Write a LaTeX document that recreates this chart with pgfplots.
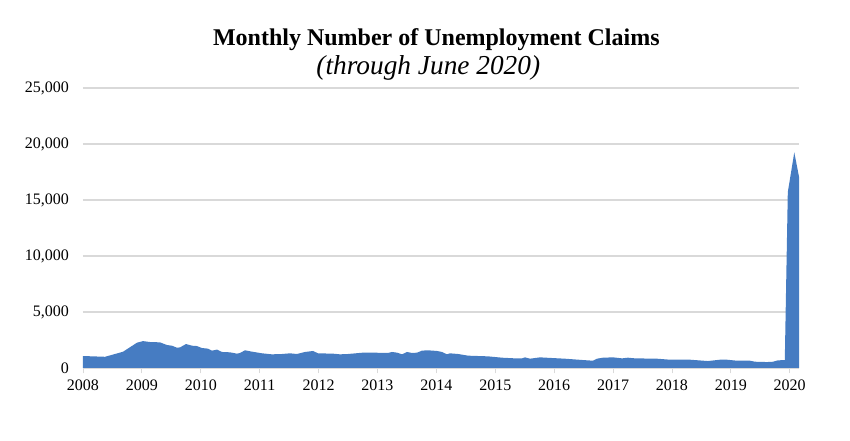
\documentclass[border=0pt]{standalone}
\usepackage{pgfplots}
\pgfplotsset{compat=1.18}
\usepackage{fontspec}
\setmainfont{Liberation Serif}
\definecolor{areablue}{RGB}{70,124,194}
\definecolor{gridgray}{RGB}{217,217,217}
\begin{document}
\begin{tikzpicture}
\begin{axis}[
  scale only axis,
  width=537pt, height=210pt,
  xmin=2008, xmax=2020.156,
  ymin=0, ymax=25000,
  axis y line*=left,
  axis x line*=bottom,
  y axis line style={draw=none},
  x axis line style={draw=gridgray, line width=0.8pt},
  ytick={0,5000,10000,15000,20000,25000},
  scaled y ticks=false,
  ymajorgrids,
  grid style={gridgray, line width=0.8pt},
  xtick={2008,2009,...,2020},
  xticklabels={2008,2009,2010,2011,2012,2013,2014,2015,2016,2017,2018,2019,2020},
  minor x tick num=11,
  tick align=outside,
  xtick style={draw=gridgray, line width=0.6pt},
  major tick length=4pt, minor tick length=4pt,
  ytick style={draw=none},
  tick label style={font=\fontsize{12}{14}\selectfont, text=black},
  yticklabel style={xshift=-3pt, /pgf/number format/.cd, fixed, 1000 sep={,}, assume math mode=true},
  xticklabel style={yshift=-1pt},
]
\addplot[fill=areablue, draw=none] coordinates {
(2008.000,1070) (2008.374,1000) (2008.679,1450) (2008.917,2260) (2009.019,2400)
(2009.138,2320) (2009.307,2290) (2009.426,2050) (2009.511,1990) (2009.596,1810)
(2009.647,1840) (2009.749,2140) (2009.851,1990) (2009.935,1960) (2010.020,1780)
(2010.122,1730) (2010.190,1550) (2010.275,1640) (2010.360,1430) (2010.496,1400)
(2010.615,1280) (2010.666,1340) (2010.750,1580) (2010.869,1460) (2011.039,1310)
(2011.209,1220) (2011.379,1250) (2011.514,1310) (2011.633,1250) (2011.769,1430)
(2011.905,1520) (2011.990,1310) (2012.245,1280) (2012.363,1220) (2012.499,1250)
(2012.754,1370) (2012.924,1370) (2013.178,1340) (2013.246,1430) (2013.331,1370)
(2013.416,1220) (2013.501,1430) (2013.586,1340) (2013.671,1370) (2013.756,1550)
(2013.857,1580) (2014.010,1520) (2014.095,1430) (2014.180,1220) (2014.231,1310)
(2014.367,1250) (2014.537,1100) (2014.876,1040) (2015.114,920) (2015.334,860)
(2015.453,860) (2015.504,950) (2015.589,830) (2015.759,950) (2015.963,890)
(2016.183,830) (2016.489,710) (2016.659,650) (2016.727,830) (2016.829,920)
(2016.998,950) (2017.151,860) (2017.253,920) (2017.372,860) (2017.745,830)
(2017.966,740) (2018.306,740) (2018.611,620) (2018.815,740) (2018.934,740)
(2019.104,650) (2019.324,650) (2019.409,560) (2019.613,530) (2019.715,560)
(2019.796,680) (2019.915,710) (2019.966,15700) (2020.076,19250) (2020.156,17080)
} \closedcycle;
\coordinate (ll) at (rel axis cs:0,0);
\coordinate (ur) at (rel axis cs:1,1);
\coordinate (tt) at (rel axis cs:0.5,1);
\end{axis}
\node[anchor=base, font=\fontsize{18}{21}\selectfont\bfseries] at ([shift={(-3.5pt,31.5pt)}]tt) {Monthly Number of Unemployment Claims};
\node[anchor=base, font=\fontsize{20.5}{24}\selectfont\itshape] at ([shift={(-9.5pt,9.75pt)}]tt) {(through June 2020)};
\pgfresetboundingbox
\path[use as bounding box] ([shift={(-62.25pt,-54.75pt)}]ll) rectangle ([shift={(38.25pt,66pt)}]ur);
\end{tikzpicture}
\end{document}
